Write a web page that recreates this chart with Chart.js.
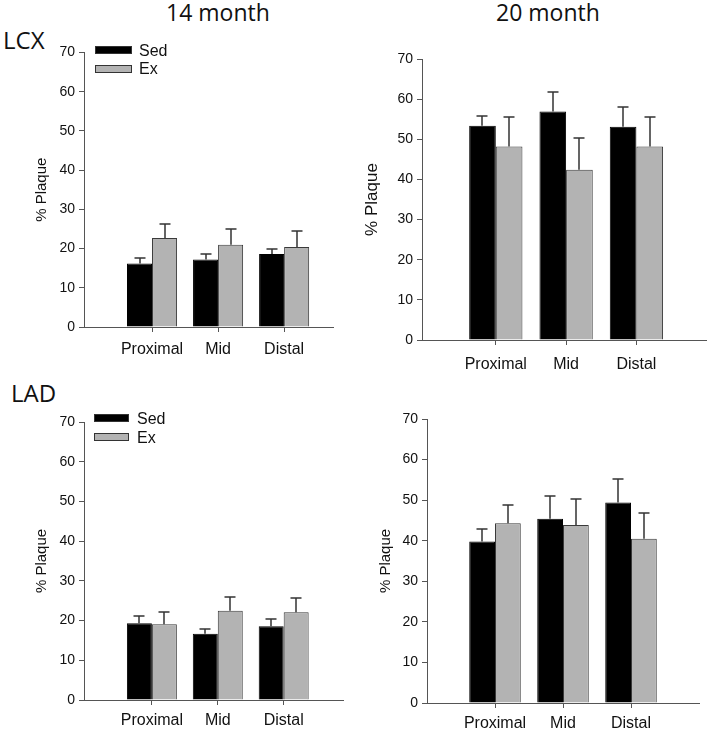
<!DOCTYPE html>
<html>
<head>
<meta charset="utf-8">
<script src="https://cdn.jsdelivr.net/npm/chart.js@4.4.1/dist/chart.umd.min.js"></script>
<style>
  body { margin: 0; background: #fff; }
  #page { position: relative; width: 709px; height: 735px; overflow: hidden; background: #fff; }
  .box { position: absolute; }
  .head { position: absolute; font-family: "Open Sans", sans-serif; color: #111; line-height: 1; white-space: nowrap; }
  .leg { position: absolute; font-family: "Liberation Sans", Arial, sans-serif; font-size: 16px; line-height: 16px; color: #111; }
  .sw { position: absolute; box-sizing: border-box; border: 1px solid #333; }
</style>
</head>
<body>
<div id="page">
  <div class="head" style="left:166px;top:1px;font-size:23px;width:100px;text-align:center">14 month</div>
  <div class="head" style="left:496px;top:1px;font-size:23px;width:100px;text-align:center">20 month</div>
  <div class="head" style="left:3px;top:28px;font-size:24px">LCX</div>
  <div class="head" style="left:11px;top:381px;font-size:24px">LAD</div>

  <div class="box" style="left:0;top:30px;width:354px;height:340px"><canvas id="c1"></canvas></div>
  <div class="box" style="left:354px;top:30px;width:355px;height:340px"><canvas id="c2"></canvas></div>
  <div class="box" style="left:0;top:400px;width:354px;height:335px"><canvas id="c3"></canvas></div>
  <div class="box" style="left:354px;top:400px;width:355px;height:335px"><canvas id="c4"></canvas></div>

  <div class="sw" style="left:95px;top:46px;width:37px;height:8px;background:#000"></div>
  <div class="leg" style="left:139px;top:43px">Sed</div>
  <div class="sw" style="left:95px;top:65px;width:37px;height:8px;background:#b3b3b3"></div>
  <div class="leg" style="left:139px;top:61px">Ex</div>

  <div class="sw" style="left:94px;top:414px;width:35px;height:8px;background:#000"></div>
  <div class="leg" style="left:137px;top:411px">Sed</div>
  <div class="sw" style="left:94px;top:433px;width:35px;height:8px;background:#b3b3b3"></div>
  <div class="leg" style="left:137px;top:430px">Ex</div>
</div>
<script>
// --- data ---
const categories = ['Proximal', 'Mid', 'Distal'];
const yTicks = [0, 10, 20, 30, 40, 50, 60, 70];

const lcx14Sed = [16.2, 17.2, 18.6];
const lcx14SedErr = [1.3, 1.3, 1.2];
const lcx14Ex = [22.7, 21.0, 20.4];
const lcx14ExErr = [3.5, 3.9, 4.1];

const lcx20Sed = [53.4, 56.9, 53.1];
const lcx20SedErr = [2.5, 5.0, 4.9];
const lcx20Ex = [48.2, 42.4, 48.2];
const lcx20ExErr = [7.3, 7.8, 7.3];

const lad14Sed = [19.3, 16.7, 18.6];
const lad14SedErr = [1.9, 1.1, 1.7];
const lad14Ex = [19.1, 22.5, 22.1];
const lad14ExErr = [3.0, 3.4, 3.5];

const lad20Sed = [39.8, 45.4, 49.4];
const lad20SedErr = [3.1, 5.5, 5.7];
const lad20Ex = [44.3, 43.9, 40.5];
const lad20ExErr = [4.4, 6.5, 6.4];

const FONT = "'Liberation Sans', Arial, sans-serif";

// upward SEM whiskers with a small cap
const errorBars = {
    id: 'errorBars',
    afterDatasetsDraw(chart) {
        const ctx = chart.ctx;
        const yScale = chart.scales.y;
        ctx.save();
        ctx.strokeStyle = '#333';
        ctx.lineWidth = 1.5;
        chart.data.datasets.forEach((ds, i) => {
            const meta = chart.getDatasetMeta(i);
            meta.data.forEach((bar, j) => {
                const x = Math.round(bar.x);
                const yTop = Math.round(yScale.getPixelForValue(ds.data[j].y + ds.errors[j]));
                ctx.beginPath();
                ctx.moveTo(x, bar.y);
                ctx.lineTo(x, yTop);
                ctx.moveTo(x - 5.5, yTop);
                ctx.lineTo(x + 5.5, yTop);
                ctx.stroke();
            });
        });
        ctx.restore();
    }
};

const toPoints = arr => arr.map((v, i) => ({ x: i + 1, y: v }));

// box = canvas container, area = wanted plot area (page px)
function makePanel(id, box, area, xMin, xMax, labelPad, titleOff, titleSize, sed, sedErr, ex, exErr) {
    new Chart(document.getElementById(id), {
        type: 'bar',
        data: {
            datasets: [
                { label: 'Sed', data: toPoints(sed), errors: sedErr, backgroundColor: '#000', borderColor: '#000', borderWidth: 1 },
                { label: 'Ex', data: toPoints(ex), errors: exErr, backgroundColor: '#b3b3b3', borderColor: '#3a3a3a', borderWidth: 1 }
            ]
        },
        options: {
            responsive: true,
            maintainAspectRatio: false,
            animation: false,
            devicePixelRatio: 1,
            categoryPercentage: 0.758,
            barPercentage: 1,
            layout: { padding: { left: 0, top: area.top - box.top, right: box.left + box.w - area.right, bottom: 0 } },
            plugins: { legend: { display: false }, tooltip: { enabled: false } },
            scales: {
                x: {
                    type: 'linear',
                    min: xMin, max: xMax,
                    bounds: 'data',
                    offset: false,
                    afterBuildTicks: s => { s.ticks = categories.map((c, i) => ({ value: i + 1 })); },
                    afterFit: s => { s.height = box.top + box.h - area.bottom; },
                    grid: { drawOnChartArea: false, offset: false, tickLength: 5, color: '#555' },
                    border: { color: '#555', width: 1 },
                    ticks: {
                        padding: labelPad,
                        color: '#111',
                        font: { family: FONT, size: 16 },
                        callback: v => categories[v - 1] || ''
                    }
                },
                y: {
                    min: 0, max: 70,
                    afterBuildTicks: s => { s.ticks = yTicks.map(v => ({ value: v })); },
                    afterFit: s => { s.width = area.left - box.left; },
                    grid: { drawOnChartArea: false, tickLength: 5, color: '#555' },
                    border: { color: '#555', width: 1 },
                    ticks: { padding: 4, color: '#111', font: { family: FONT, size: 14 } },
                    title: {
                        display: true, text: '% Plaque', color: '#111',
                        font: { family: FONT, size: titleSize },
                        padding: { top: titleOff, bottom: 0 }
                    }
                }
            }
        },
        plugins: [errorBars]
    });
}

makePanel('c1', { left: 0, top: 30, w: 354, h: 340 }, { left: 84, right: 333, top: 52.5, bottom: 327 }, -0.03, 3.74, 8, 33, 15, lcx14Sed, lcx14SedErr, lcx14Ex, lcx14ExErr);
makePanel('c2', { left: 354, top: 30, w: 355, h: 340 }, { left: 422, right: 706, top: 59, bottom: 340 }, -0.05, 3.99, 10, 8, 17, lcx20Sed, lcx20SedErr, lcx20Ex, lcx20ExErr);
makePanel('c3', { left: 0, top: 400, w: 354, h: 335 }, { left: 84, right: 343, top: 422, bottom: 700 }, -0.03, 3.9, 6, 33, 15, lad14Sed, lad14SedErr, lad14Ex, lad14ExErr);
makePanel('c4', { left: 354, top: 400, w: 355, h: 335 }, { left: 427, right: 699, top: 419, bottom: 703 }, 0, 4, 6, 23, 15, lad20Sed, lad20SedErr, lad20Ex, lad20ExErr);
</script>
</body>
</html>
